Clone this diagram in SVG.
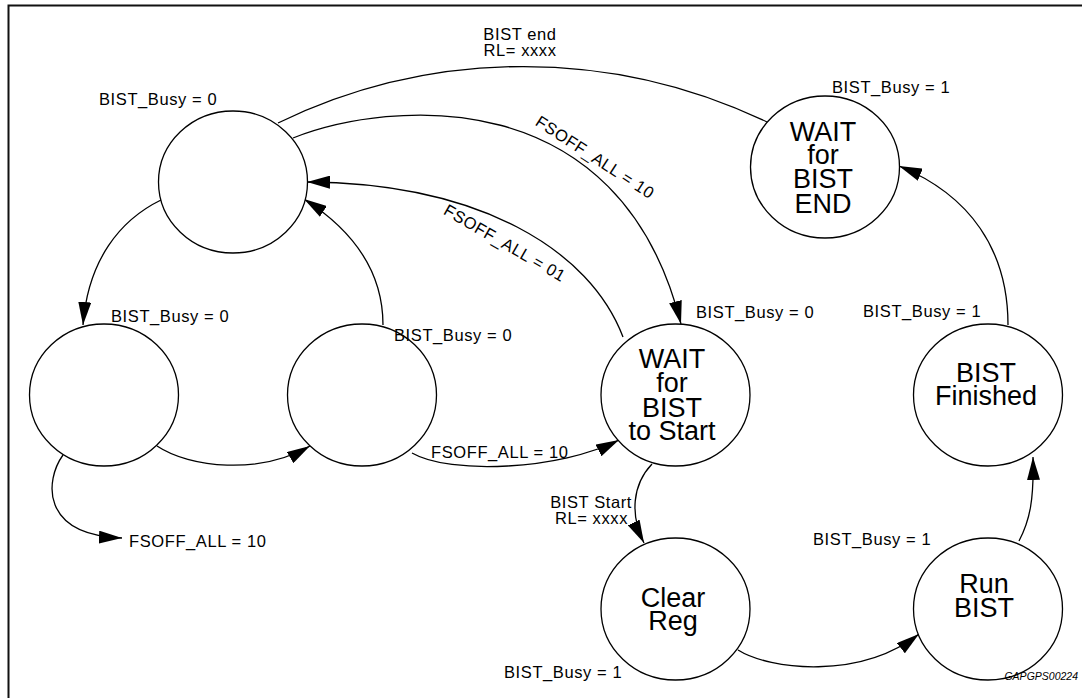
<svg xmlns="http://www.w3.org/2000/svg" width="1082" height="698" viewBox="0 0 1082 698">
<style>
  text { font-family: "Liberation Sans", Arial, Helvetica, sans-serif; fill: #000; }
  .st { fill: #fff; stroke: #000; stroke-width: 1.3; }
  .nl { font-size: 27px; text-anchor: middle; }
  .lb { font-size: 16.5px; letter-spacing: 0.6px; }
  .edge { fill: none; stroke: #000; stroke-width: 1.3; }
  .arr { marker-end: url(#ah); }
  .id { font-size: 10.5px; font-style: italic; text-anchor: end; }
</style>
<defs>
  <marker id="ah" markerUnits="userSpaceOnUse" markerWidth="23" markerHeight="13" refX="23" refY="6.5" orient="auto">
    <path d="M0,0 L23,6.5 L0,13 Z" fill="#000"/>
  </marker>
</defs>
<rect x="8.5" y="5.5" width="1100" height="720" fill="#fff" stroke="#111" stroke-width="2"/>

<g id="connectors">
  <path class="edge" d="M278,123 A562,562 0 0,1 767,122"/>
  <path class="edge arr" d="M293,138 C390,100 620,80 681,324"/>
  <path class="edge arr" d="M623,337 C590,250 480,183 307,182"/>
  <path class="edge arr" d="M383,325 C383,260 340,222 304,199"/>
  <path class="edge arr" d="M161,200 C120,220 88,260 83,325"/>
  <path class="edge arr" d="M157,446 C190,468 260,475 310,446"/>
  <path class="edge arr" d="M63,455 C45,480 40,535 122,538"/>
  <path class="edge arr" d="M412,453 C450,475 560,470 619,440"/>
  <path class="edge arr" d="M652,464 C632,485 630,515 644,543"/>
  <path class="edge arr" d="M738,650 C770,670 860,680 919,634"/>
  <path class="edge arr" d="M1019,541 C1030,520 1034,500 1033,457"/>
  <path class="edge arr" d="M1008,325 C1008,250 970,195 899,166"/>
  <text class="lb" x="520" y="40" text-anchor="middle">BIST end</text>
  <text class="lb" x="520" y="56" text-anchor="middle">RL= xxxx</text>
  <text class="lb" transform="translate(592,162) rotate(33)" text-anchor="middle">FSOFF_ALL = 10</text>
  <text class="lb" transform="translate(502,248) rotate(30)" text-anchor="middle">FSOFF_ALL = 01</text>
  <text class="lb" x="129" y="547">FSOFF_ALL = 10</text>
  <text class="lb" x="431" y="458">FSOFF_ALL = 10</text>
  <text class="lb" x="632" y="508" text-anchor="end">BIST Start</text>
  <text class="lb" x="628" y="524" text-anchor="end">RL= xxxx</text>
</g>

<g id="nodeA">
  <ellipse class="st" cx="233" cy="182" rx="74.5" ry="71"/>
  <text class="lb" x="99" y="105">BIST_Busy = 0</text>
</g>
<g id="nodeB">
  <ellipse class="st" cx="104" cy="395" rx="74.5" ry="71"/>
  <text class="lb" x="111" y="322">BIST_Busy = 0</text>
</g>
<g id="nodeC">
  <ellipse class="st" cx="362" cy="395" rx="74.5" ry="71"/>
  <text class="lb" x="394" y="341">BIST_Busy = 0</text>
</g>
<g id="nodeD">
  <ellipse class="st" cx="675.5" cy="395" rx="74.5" ry="71"/>
  <text class="nl" x="672" y="368">WAIT</text>
  <text class="nl" x="672" y="392">for</text>
  <text class="nl" x="672" y="417">BIST</text>
  <text class="nl" x="672" y="440">to Start</text>
  <text class="lb" x="696" y="318">BIST_Busy = 0</text>
</g>
<g id="nodeE">
  <ellipse class="st" cx="675.5" cy="609" rx="74.5" ry="71"/>
  <text class="nl" x="673" y="607">Clear</text>
  <text class="nl" x="673" y="630">Reg</text>
  <text class="lb" x="504" y="678">BIST_Busy = 1</text>
</g>
<g id="nodeF">
  <ellipse class="st" cx="988" cy="609" rx="74.5" ry="71"/>
  <text class="nl" x="984" y="593">Run</text>
  <text class="nl" x="984" y="617">BIST</text>
  <text class="lb" x="813" y="545">BIST_Busy = 1</text>
</g>
<g id="nodeG">
  <ellipse class="st" cx="988" cy="395" rx="74.5" ry="71"/>
  <text class="nl" x="986" y="382">BIST</text>
  <text class="nl" x="986" y="405">Finished</text>
  <text class="lb" x="863" y="317">BIST_Busy = 1</text>
</g>
<g id="nodeH">
  <ellipse class="st" cx="825" cy="167" rx="74.5" ry="71"/>
  <text class="nl" x="823" y="141">WAIT</text>
  <text class="nl" x="823" y="164">for</text>
  <text class="nl" x="823" y="188">BIST</text>
  <text class="nl" x="823" y="213">END</text>
  <text class="lb" x="832" y="93">BIST_Busy = 1</text>
</g>
<text class="id" x="1078" y="680">GAPGPS00224</text>
</svg>
